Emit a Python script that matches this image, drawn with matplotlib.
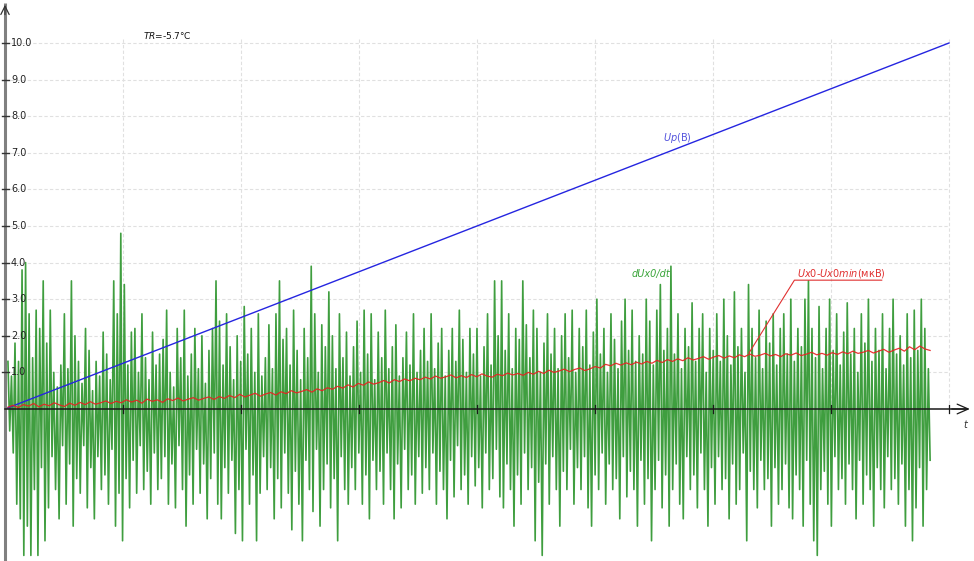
import numpy as np
import matplotlib.pyplot as plt

# pixel scale of the original screen: 118 px per time unit, 36.6 px per volt
PX_T = 118.0
PX_V = 36.6

# Up(B): linear ramp
t_up = [0.0, 8.0]
up = [0.0, 10.0]

# dUx0/dt: alternating positive / negative swings
dudt_pos = [
    1.3, 0.9, 1.8, 1.3, 3.8, 4.0, 2.6, 1.4, 2.7, 2.2, 3.5, 1.8, 2.7, 1.0, 0.6, 1.2, 2.6, 1.1, 3.5, 2.0,
    1.3, 0.7, 2.2, 1.6, 0.5, 1.3, 0.9, 2.1, 1.5, 0.8, 3.5, 2.6, 4.8, 3.4, 1.2, 2.1, 2.2, 1.0, 2.6, 1.4,
    0.8, 2.1, 1.2, 1.5, 1.9, 2.7, 1.0, 0.6, 2.2, 1.4, 2.7, 0.9, 1.5, 2.2, 1.1, 2.0, 0.7, 1.6, 2.2, 3.5,
    2.4, 1.2, 2.6, 1.7, 0.8, 2.0, 1.3, 2.8, 1.5, 2.2, 1.0, 2.6, 0.9, 1.4, 2.3, 1.1, 2.6, 3.5, 1.9, 2.2,
    1.2, 2.7, 1.6, 0.8, 2.2, 1.4, 3.9, 2.6, 1.0, 2.3, 1.7, 3.2, 2.0, 1.1, 2.6, 1.4, 2.1, 0.9, 1.7, 2.4,
    1.0, 2.7, 1.5, 2.6, 0.8, 2.1, 1.4, 2.7, 1.1, 1.7, 2.3, 0.9, 1.4, 2.1, 1.2, 2.6, 1.0, 1.6, 2.2, 1.3,
    2.6, 1.1, 1.8, 2.2, 0.9, 1.6, 2.2, 1.3, 2.7, 1.9, 1.0, 2.2, 1.5, 2.2, 0.9, 1.7, 2.6, 1.2, 3.5, 2.0,
    3.5, 1.6, 2.6, 1.1, 2.2, 1.9, 3.5, 2.3, 1.4, 2.7, 2.2, 1.0, 1.8, 2.6, 1.5, 2.2, 1.1, 2.0, 2.6, 1.4,
    2.7, 1.0, 2.2, 1.7, 2.7, 1.2, 2.1, 3.0, 1.5, 2.2, 1.0, 2.6, 1.9, 1.1, 2.4, 3.0, 1.6, 2.7, 1.3, 2.0,
    1.5, 3.0, 2.4, 1.2, 2.7, 3.4, 1.6, 2.2, 3.9, 1.5, 2.6, 1.1, 2.2, 1.7, 2.9, 1.3, 2.2, 2.6, 1.0, 2.2,
    1.6, 2.6, 1.3, 3.0, 2.0, 1.2, 3.2, 1.7, 2.2, 1.0, 3.4, 2.2, 1.4, 2.7, 1.1, 2.4, 1.8, 2.6, 1.2, 2.2,
    2.6, 1.5, 3.0, 1.3, 2.2, 1.7, 3.0, 3.5, 2.2, 1.4, 2.8, 1.1, 2.2, 3.0, 1.6, 2.6, 1.2, 2.1, 2.9, 1.5,
    2.2, 1.0, 2.6, 1.8, 3.0, 1.3, 2.2, 1.6, 2.6, 1.1, 2.2, 3.0, 1.5, 2.0, 1.2, 2.6, 1.4, 2.7, 1.6, 3.0, 2.2, 1.1,
]
dudt_neg = [
    -0.6, -1.2, -2.6, -3.0, -4.0, -3.2, -4.0, -2.2, -4.0, -1.6, -3.6, -2.7, -1.3, -2.2, -3.0, -1.0, -2.6, -1.5, -3.2, -1.9,
    -2.3, -1.0, -2.7, -1.6, -3.0, -1.3, -2.2, -1.8, -2.6, -1.1, -3.2, -2.3, -3.6, -1.9, -2.7, -1.4, -2.3, -1.0, -2.2, -1.7,
    -2.6, -1.2, -2.2, -1.9, -1.3, -2.6, -1.5, -2.7, -1.0, -2.2, -3.2, -1.8, -2.6, -1.1, -2.3, -1.5, -3.0, -1.9, -1.2, -2.6,
    -3.0, -1.6, -2.3, -1.4, -3.4, -2.2, -3.6, -1.1, -2.6, -1.8, -3.6, -2.3, -1.3, -2.2, -1.6, -3.0, -1.9, -2.7, -1.2, -2.3,
    -3.3, -1.7, -2.6, -3.6, -1.4, -2.2, -2.8, -1.1, -3.2, -2.2, -1.5, -2.7, -1.9, -3.6, -1.3, -2.2, -2.6, -1.6, -2.2, -1.2,
    -2.6, -1.8, -3.0, -1.4, -2.2, -1.7, -2.6, -1.2, -2.2, -3.0, -1.5, -2.7, -1.1, -2.2, -1.8, -2.6, -1.3, -2.3, -1.6, -2.2,
    -1.2, -2.6, -1.7, -2.2, -3.0, -1.4, -2.4, -1.0, -2.2, -1.8, -2.6, -1.3, -2.1, -1.6, -2.7, -1.2, -2.2, -1.9, -1.1, -2.4,
    -2.7, -1.5, -2.2, -3.2, -1.8, -2.6, -1.2, -2.2, -1.6, -3.6, -2.0, -4.0, -1.5, -2.6, -1.3, -2.2, -3.2, -1.7, -2.2, -1.1,
    -2.6, -1.6, -2.2, -1.3, -2.7, -3.2, -1.8, -2.2, -1.2, -2.6, -1.5, -2.2, -1.9, -3.0, -1.3, -2.4, -1.7, -2.2, -3.2, -1.4,
    -2.6, -1.9, -3.6, -2.2, -1.4, -2.7, -1.8, -3.2, -2.2, -1.5, -2.6, -3.0, -1.3, -2.2, -1.8, -2.7, -1.2, -2.2, -3.2, -1.6,
    -2.6, -1.3, -2.2, -1.9, -3.0, -1.5, -2.6, -2.2, -1.2, -3.6, -1.7, -2.2, -2.7, -1.4, -2.2, -1.9, -3.2, -1.6, -2.6, -2.2,
    -1.5, -2.7, -3.0, -1.8, -2.2, -3.2, -1.4, -2.6, -3.6, -4.0, -2.2, -1.7, -2.6, -3.2, -1.3, -2.2, -1.9, -2.6, -1.5, -2.2,
    -3.0, -1.4, -2.6, -1.8, -2.2, -3.2, -1.6, -2.2, -2.7, -1.3, -2.2, -1.9, -2.6, -1.5, -3.2, -2.2, -3.6, -2.7, -1.6, -3.2, -2.2, -1.4,
]

# Ux0-Ux0min (мкВ)
ux0 = [
    0.05, 0.10, 0.04, 0.12, 0.08, 0.15, 0.06, 0.13, 0.09, 0.17, 0.11, 0.07, 0.16, 0.10, 0.18, 0.12, 0.20, 0.13, 0.17, 0.22,
    0.15, 0.21, 0.17, 0.25, 0.19, 0.24, 0.16, 0.27, 0.21, 0.25, 0.18, 0.28, 0.23, 0.30, 0.22, 0.27, 0.31, 0.24, 0.29, 0.33,
    0.26, 0.34, 0.29, 0.37, 0.31, 0.40, 0.33, 0.38, 0.43, 0.35, 0.41, 0.45, 0.38, 0.47, 0.42, 0.50, 0.44, 0.48, 0.53, 0.46,
    0.55, 0.50, 0.58, 0.54, 0.62, 0.57, 0.66, 0.60, 0.70, 0.65, 0.74, 0.68, 0.72, 0.78, 0.71, 0.80, 0.75, 0.82, 0.77, 0.84,
    0.80, 0.87, 0.82, 0.90, 0.84, 0.88, 0.93, 0.85, 0.91, 0.86, 0.94, 0.88, 0.96, 0.90, 0.87, 0.95, 0.91, 0.98, 0.93, 0.97,
    0.92, 1.00, 0.95, 1.03, 0.97, 1.06, 1.00, 1.04, 1.09, 1.02, 1.08, 1.12, 1.05, 1.10, 1.16, 1.12, 1.22, 1.18, 1.25, 1.20,
    1.26, 1.21, 1.28, 1.23, 1.30, 1.25, 1.33, 1.27, 1.35, 1.30, 1.37, 1.32, 1.40, 1.34, 1.38, 1.43, 1.36, 1.42, 1.46, 1.39,
    1.45, 1.40, 1.48, 1.43, 1.50, 1.44, 1.47, 1.52, 1.45, 1.49, 1.43, 1.51, 1.47, 1.53, 1.46, 1.50, 1.55, 1.48, 1.52, 1.47,
    1.54, 1.49, 1.56, 1.51, 1.58, 1.52, 1.55, 1.60, 1.53, 1.58, 1.63, 1.55, 1.61, 1.66, 1.58, 1.70, 1.62, 1.72, 1.64, 1.60,
]

y_ticks = [1.0, 2.0, 3.0, 4.0, 5.0, 6.0, 7.0, 8.0, 9.0, 10.0]
x_grid = [1, 2, 3, 4, 5, 6, 7, 8]
t_start, t_end = 0.025, 7.84

fig = plt.figure(figsize=(9.74, 5.61), dpi=100)
ax = fig.add_axes([0, 0, 1, 1])
ax.set_xlim(-5 / PX_T, 969 / PX_T)
ax.set_ylim(-152 / PX_V, 409 / PX_V)
ax.axis('off')

# grid
grid_kw = dict(color='#e0e0e0', lw=0.8, linestyle=(0, (3, 2)), zorder=0)
ax.hlines(y_ticks, 0, 8, **grid_kw)
ax.vlines(x_grid, 0, 10.1, **grid_kw)

# dUx0/dt: interleave the swings
n = min(len(dudt_pos), len(dudt_neg))
dudt = np.empty(2 * n)
dudt[0::2] = dudt_pos[:n]
dudt[1::2] = dudt_neg[:n]
t_dudt = np.linspace(t_start, t_end, 2 * n)
ax.plot(t_dudt, dudt, color='#3f9e3f', lw=1.2, zorder=2)

# Up(B)
ax.plot(t_up, up, color='#2525e0', lw=1.0, zorder=3)

# Ux0-Ux0min
t_ux0 = np.linspace(t_start, t_end, len(ux0))
ax.plot(t_ux0, ux0, color='#e82020', lw=0.9, alpha=0.9, zorder=4)

# axes
ax.plot([0, 0], [-5, 11.1], color='#808080', lw=2.2, zorder=5, solid_capstyle='butt')
ax.annotate('', xy=(0, 11.12), xytext=(0, 10.7),
            arrowprops=dict(arrowstyle='->,head_length=0.6,head_width=0.3', color='#333333', lw=0.9), zorder=6)
ax.plot([0, 8.15], [0, 0], color='#1a1a1a', lw=1.1, zorder=5)
ax.annotate('', xy=(8.2, 0), xytext=(8.0, 0),
            arrowprops=dict(arrowstyle='->,head_length=0.8,head_width=0.35', color='#1a1a1a', lw=0.9), zorder=6)

# y ticks and labels
for v in y_ticks:
    ax.plot([-3 / PX_T, 4 / PX_T], [v, v], color='#333333', lw=1.0, zorder=6)
    ax.text(6 / PX_T, v, f'{v:.1f}', fontsize=7, color='#222222', ha='left', va='center', zorder=7)
for t in x_grid:
    ax.plot([t, t], [-0.12, 0.12], color='#1a1a1a', lw=0.9, zorder=6)
ax.text(8.12, -0.45, 't', fontsize=7, style='italic', color='#333333', ha='left', va='center')

# labels
ax.text(1.17, 10.12, r'$\it{TR}$=-5.7°C', fontsize=6.5, color='#111111', ha='left', va='baseline')
ax.text(5.58, 7.33, r'$\it{Up}$(В)', fontsize=7, color='#5555dd', ha='left', va='baseline')
ax.text(5.31, 3.6, 'dUx0/dt', fontsize=7, style='italic', color='#3aa53a', ha='left', va='baseline')
ax.text(6.71, 3.62, r'$\it{Ux0}$-$\it{Ux0min}$(мкВ)', fontsize=7, color='#e03030', ha='left', va='baseline')
ax.plot([6.305, 6.69, 7.43], [1.53, 3.52, 3.52], color='#e03030', lw=0.8, zorder=6)

fig.savefig('out.png', dpi=100)
